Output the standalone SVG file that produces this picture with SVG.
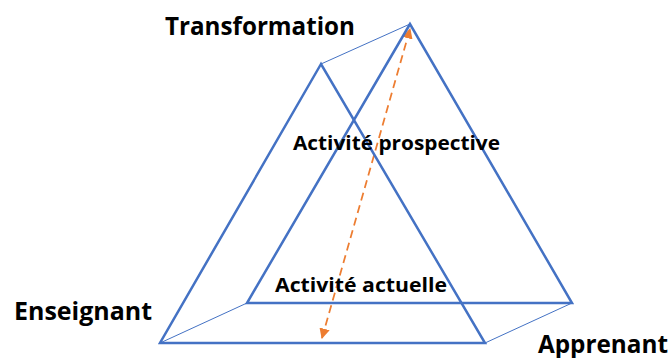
<svg xmlns="http://www.w3.org/2000/svg" width="672" height="358" viewBox="0 0 672 358">
<style>
.tri{fill:none;stroke:#4472C4;stroke-width:2.5;stroke-linejoin:miter}
.edge{fill:none;stroke:#4472C4;stroke-width:1}
.lbl{font-family:"Open Sans","Liberation Sans",sans-serif;font-weight:bold;fill:#000}
.big{font-size:25px}
.mid{font-size:20px}
</style>
<defs>
<marker id="ah" viewBox="0 0 10 10" refX="9" refY="5" markerWidth="6" markerHeight="6" orient="auto-start-reverse" markerUnits="strokeWidth">
<path d="M0,0 L10,5 L0,10 z" fill="#ED7D31"/>
</marker>
</defs>
<rect width="672" height="358" fill="#fff"/>
<g id="connectors">
<line class="edge" x1="321" y1="64" x2="410" y2="24"/>
<line class="edge" x1="160" y1="343" x2="247" y2="303"/>
<line class="edge" x1="485" y1="343" x2="572" y2="303"/>
<line x1="322" y1="338" x2="410" y2="29" stroke="#ED7D31" stroke-width="1.75" stroke-dasharray="8,5" marker-start="url(#ah)" marker-end="url(#ah)"/>
</g>
<g id="activite-actuelle-tri">
<polygon class="tri" points="321,64 160,343 485,343"/>
</g>
<g id="activite-prospective-tri">
<polygon class="tri" points="410,24 247,303 572,303"/>
</g>
<g id="transformation"><text class="lbl big" x="165" y="35" textLength="190" lengthAdjust="spacingAndGlyphs">Transformation</text></g>
<g id="enseignant"><text class="lbl big" x="14" y="320" textLength="138" lengthAdjust="spacingAndGlyphs">Enseignant</text></g>
<g id="apprenant"><text class="lbl big" x="538" y="353" textLength="130" lengthAdjust="spacingAndGlyphs">Apprenant</text></g>
<g id="activite-prospective"><text class="lbl mid" x="293" y="150" textLength="207" lengthAdjust="spacingAndGlyphs">Activité prospective</text></g>
<g id="activite-actuelle"><text class="lbl mid" x="275" y="292" textLength="172" lengthAdjust="spacingAndGlyphs">Activité actuelle</text></g>
</svg>
